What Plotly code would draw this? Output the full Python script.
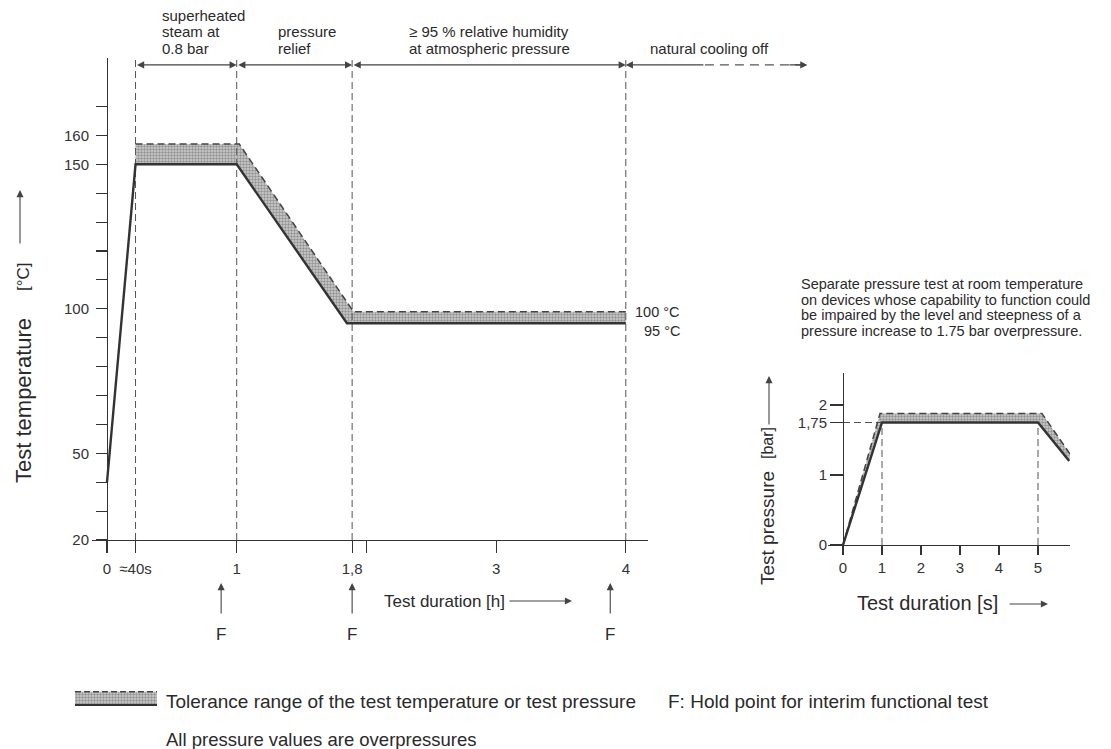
import plotly.graph_objects as go

# ---------------- data ----------------
# main chart: test temperature vs test duration (schematic hour axis)
phase_t = [0.22, 1.0, 1.89, 4.0]          # phase boundaries (dashed verticals)
cooling_solid_end = 4.61                  # end of solid part of "natural cooling off" arrow
cooling_arrow_end = 5.4                   # tip of dashed "natural cooling off" arrow
arrow_level = 184.4                       # height of the phase arrows (°C scale)

temp_t = [0.0, 0.22, 1.0, 1.85, 4.0]      # lower limit (solid)
temp_min = [40, 150, 150, 95, 95]
tol_t = [0.22, 1.02, 1.9, 4.0]            # upper limit (dashed)
temp_max = [157, 157, 99, 99]

x_tick_vals = [0, 0.22, 1, 1.89, 2, 3, 4]
x_tick_text = ["0", "≈40s", "1", "1,8", "", "3", "4"]
y_tick_vals = [20, 30, 40, 50, 60, 70, 80, 90, 100, 110, 120, 130, 140, 150, 160, 170]
y_tick_text = ["20", "", "", "50", "", "", "", "", "100", "", "", "", "", "150", "160", ""]

hold_points = [0.88, 1.89, 3.88]          # "F" arrows

phase_labels = [
    ["superheated", "steam at", "0.8 bar"],
    ["pressure", "relief"],
    ["≥ 95 % relative humidity", "at atmospheric pressure"],
    ["natural cooling off"],
]

# inset: test pressure vs test duration [s]
p_t = [0, 1, 5, 5.8]
p_min = [0, 1.75, 1.75, 1.2]
p_tol_t = [0, 0.95, 5.1, 5.82]
p_max = [0, 1.88, 1.88, 1.3]
p_marks = [1, 5]
p_level = 1.75
p_x_ticks = [0, 1, 2, 3, 4, 5]
p_y_ticks = [0, 1, 1.75, 2]
p_y_text = ["0", "1", "1,75", "2"]

inset_note = [
    "Separate pressure test at room temperature",
    "on devices whose capability to function could",
    "be impaired by the level and steepness of a",
    "pressure increase to 1.75 bar overpressure.",
]

legend_x = [0, 1]
legend_lo = [0.12, 0.12]
legend_hi = [0.9, 0.9]

# ---------------- layout helpers ----------------
W = 1111
H_EFF = 741.0   # vertical layout height that maps onto the photographed 749 px
FONT = "Liberation Sans, Arial, Helvetica, sans-serif"
INK = "#2a2a2a"


def fx(px):
    return px / W


def fy(py):
    return 1 - py / H_EFF


pattern = dict(shape=".", bgcolor="#cfcfcf", fgcolor="#555555", size=3, solidity=0.5)

fig = go.Figure()

# ---- main chart ----
fig.add_trace(go.Scatter(x=temp_t[1:], y=temp_min[1:], mode="lines", line=dict(width=0),
                         xaxis="x", yaxis="y", hoverinfo="skip"))
fig.add_trace(go.Scatter(x=tol_t, y=temp_max, mode="lines", line=dict(width=0), fill="tonexty",
                         fillcolor="#cfcfcf", fillpattern=pattern, xaxis="x", yaxis="y", hoverinfo="skip"))
for t in phase_t:
    fig.add_trace(go.Scatter(x=[t, t], y=[y_tick_vals[0], arrow_level + 2], mode="lines",
                             line=dict(color="#555", width=1, dash="7px,4px"),
                             xaxis="x", yaxis="y", hoverinfo="skip"))
fig.add_trace(go.Scatter(x=tol_t, y=temp_max, mode="lines",
                         line=dict(color="#444", width=1.5, dash="7px,4px"), xaxis="x", yaxis="y"))
fig.add_trace(go.Scatter(x=temp_t, y=temp_min, mode="lines",
                         line=dict(color="#333", width=2.4), xaxis="x", yaxis="y"))

fig.add_trace(go.Scatter(x=[cooling_solid_end, cooling_arrow_end - 0.05], y=[arrow_level, arrow_level],
                         mode="lines", line=dict(color="#555", width=1.2, dash="9px,6px"),
                         xaxis="x3", yaxis="y", hoverinfo="skip"))

# ---- inset ----
fig.add_trace(go.Scatter(x=p_t, y=p_min, mode="lines", line=dict(width=0), xaxis="x2", yaxis="y2",
                         hoverinfo="skip"))
fig.add_trace(go.Scatter(x=p_tol_t, y=p_max, mode="lines", line=dict(width=0), fill="tonexty",
                         fillcolor="#cfcfcf", fillpattern=pattern, xaxis="x2", yaxis="y2", hoverinfo="skip"))
for t in p_marks:
    fig.add_trace(go.Scatter(x=[t, t], y=[0, p_level], mode="lines",
                             line=dict(color="#555", width=1, dash="7px,4px"), xaxis="x2", yaxis="y2"))
fig.add_trace(go.Scatter(x=[p_t[0], p_marks[0]], y=[p_level, p_level], mode="lines",
                         line=dict(color="#555", width=1, dash="7px,4px"), xaxis="x2", yaxis="y2"))
fig.add_trace(go.Scatter(x=p_tol_t, y=p_max, mode="lines",
                         line=dict(color="#444", width=1.5, dash="7px,4px"), xaxis="x2", yaxis="y2"))
fig.add_trace(go.Scatter(x=p_t, y=p_min, mode="lines",
                         line=dict(color="#333", width=2.4), xaxis="x2", yaxis="y2"))

# ---- legend swatch ----
fig.add_trace(go.Scatter(x=legend_x, y=legend_lo, mode="lines", line=dict(width=0), xaxis="x4", yaxis="y4"))
fig.add_trace(go.Scatter(x=legend_x, y=legend_hi, mode="lines", line=dict(width=0), fill="tonexty",
                         fillcolor="#cfcfcf", fillpattern=pattern, xaxis="x4", yaxis="y4"))
fig.add_trace(go.Scatter(x=legend_x, y=legend_hi, mode="lines",
                         line=dict(color="#444", width=1.5, dash="6px,3px"), xaxis="x4", yaxis="y4"))
fig.add_trace(go.Scatter(x=legend_x, y=legend_lo, mode="lines",
                         line=dict(color="#333", width=2), xaxis="x4", yaxis="y4"))

ann = []


def text(s, x, y, size, xanchor="left", yanchor="middle", angle=0, xref="paper", yref="paper", **kw):
    ann.append(dict(text=s, x=x, y=y, xref=xref, yref=yref, xanchor=xanchor, yanchor=yanchor,
                    textangle=angle, showarrow=False, font=dict(family=FONT, size=size, color=INK), **kw))


def arrow(x, y, ax, ay, xref="paper", yref="paper", axref="pixel", ayref="pixel", both=False, size=1.3):
    ann.append(dict(text="", x=x, y=y, ax=ax, ay=ay, xref=xref, yref=yref, axref=axref, ayref=ayref,
                    showarrow=True, arrowhead=2, arrowsize=size, arrowwidth=1.1, arrowcolor="#444",
                    startarrowhead=2, startarrowsize=size,
                    arrowside="end+start" if both else "end", standoff=0, startstandoff=0))


for a, b in zip(phase_t[:-1], phase_t[1:]):
    arrow(b, arrow_level, a, arrow_level, xref="x3", yref="y", axref="x3", ayref="y", both=True)
arrow(phase_t[-1], arrow_level, cooling_solid_end, arrow_level, xref="x3", yref="y", axref="x3", ayref="y")
arrow(cooling_arrow_end, arrow_level, cooling_arrow_end - 0.15, arrow_level, xref="x3", yref="y",
      axref="x3", ayref="y")

label_x = [160, 276, 407, 648]
line_centers = [15.5, 31.5, 49]
for lx, lines in zip(label_x, phase_labels):
    start = len(line_centers) - len(lines)
    for i, s in enumerate(lines):
        text(s, fx(lx), fy(line_centers[start + i]), 15)

text("100 °C", phase_t[-1], temp_max[-1], 14.5, xanchor="right", xref="x", yref="y", xshift=56)
text("95 °C", phase_t[-1], temp_min[-1], 14.5, xanchor="right", xref="x", yref="y", xshift=56, yshift=-8)

for h in hold_points:
    arrow(h, fy(583), 0, 32, xref="x")
    text("F", h, fy(634), 17, xanchor="center", xref="x")

text("Test temperature", fx(23), fy(401), 22, xanchor="center", angle=-90)
text("[°C]", fx(23), fy(277), 17, xanchor="center", angle=-90)
arrow(fx(20), fy(190), 0, 55)
text("Test duration [h]", fx(382), fy(601), 17)
arrow(fx(572), fy(601), -64, 0)

text("Test pressure", fx(767), fy(528), 19, xanchor="center", angle=-90)
text("[bar]", fx(767), fy(443), 16, xanchor="center", angle=-90)
arrow(fx(769), fy(376), 0, 50)
text("Test duration [s]", fx(855), fy(603), 20)
arrow(fx(1048), fy(604), -40, 0)

for i, s in enumerate(inset_note):
    text(s, fx(799), fy(284 + i * 15.7), 14.5)

text("Tolerance range of the test temperature or test pressure", fx(164), fy(701), 19)
text("F: Hold point for interim functional test", fx(666), fy(701), 19)
text("All pressure values are overpressures", fx(164), fy(739), 18.5)

axis_style = dict(showline=True, linecolor="#333", linewidth=1.3, ticks="outside", tickcolor="#333",
                  tickwidth=1.2, showgrid=False, zeroline=False,
                  tickfont=dict(family=FONT, size=15, color="#333"), fixedrange=True)

fig.update_layout(
    autosize=True,
    margin=dict(l=0, r=0, t=0, b=0, pad=0),
    paper_bgcolor="white", plot_bgcolor="rgba(0,0,0,0)",
    showlegend=False,
    annotations=ann,
    xaxis=dict(domain=[fx(92), fx(648)], range=[-15 / 129.7, (648 - 107) / 129.7], anchor="y",
               tickmode="array", tickvals=x_tick_vals, ticktext=x_tick_text, ticklen=12,
               ticklabelstandoff=3, **axis_style),
    yaxis=dict(domain=[fy(540), fy(58)], range=[20, 20 + 482 / 2.89], anchor="free", position=fx(107),
               tickmode="array", tickvals=y_tick_vals, ticktext=y_tick_text, ticklen=11,
               ticklabelstandoff=4, **axis_style),
    xaxis3=dict(domain=[fx(92), fx(820)], range=[-15 / 129.7, (820 - 107) / 129.7], anchor="y",
                visible=False, fixedrange=True),
    xaxis2=dict(domain=[fx(828), fx(1070)], range=[-15 / 39, 227 / 39], anchor="y2",
                tickmode="array", tickvals=p_x_ticks, ticklen=9, **axis_style),
    yaxis2=dict(domain=[fy(545), fy(373)], range=[0, 172 / 70], anchor="free", position=fx(843),
                tickmode="array", tickvals=p_y_ticks, ticktext=p_y_text, ticklen=13, **axis_style),
    xaxis4=dict(domain=[fx(75), fx(157)], range=[0, 1], anchor="y4", visible=False, fixedrange=True),
    yaxis4=dict(domain=[fy(707), fy(690)], range=[0, 1], anchor="x4", visible=False, fixedrange=True),
)

fig.write_html(
    "out.html",
    default_width="100vw",
    default_height="100vh",
    config={"displayModeBar": False, "staticPlot": True, "responsive": True},
    post_script=(
        "document.body.style.margin='0';"
        "document.documentElement.style.overflow='hidden';document.body.style.overflow='hidden';"
        "var d=document.getElementById('{plot_id}');"
        "d.style.position='fixed';d.style.left='0px';d.style.top='0px';"
        "Plotly.Plots.resize(d);"
    ),
)
